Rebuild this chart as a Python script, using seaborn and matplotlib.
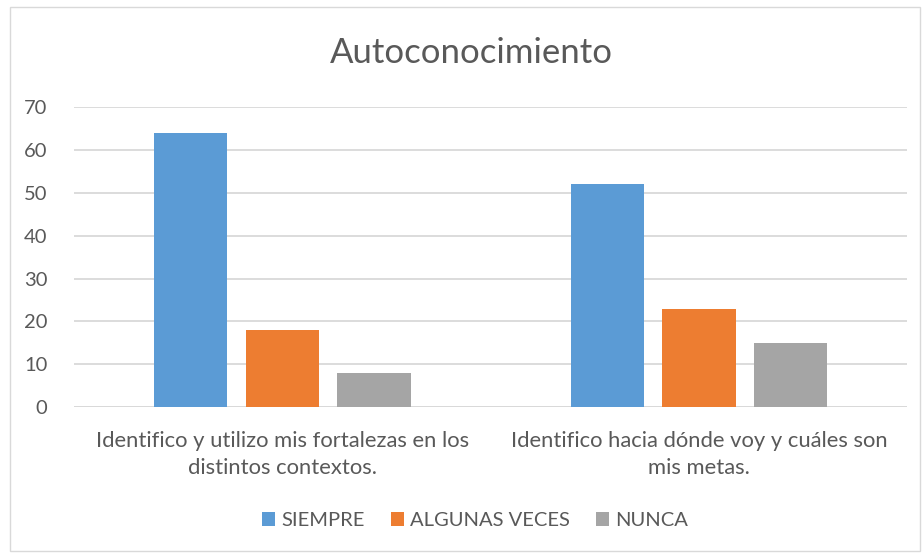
import pandas as pd
import matplotlib
matplotlib.use("Agg")
import matplotlib.pyplot as plt
import seaborn as sns
from matplotlib.patches import Rectangle

# chart data
categories = ["Identifico y utilizo mis fortalezas en los\ndistintos contextos.",
              "Identifico hacia dónde voy y cuáles son\nmis metas."]
series = ["SIEMPRE", "ALGUNAS VECES", "NUNCA"]
siempre = [64, 52]
algunas_veces = [18, 23]
nunca = [8, 15]
colors = ["#5B9BD5", "#ED7D31", "#A5A5A5"]

df = pd.DataFrame({
    "pregunta": categories * 3,
    "respuesta": [s for s in series for _ in categories],
    "valor": siempre + algunas_veces + nunca,
})

sns.set_theme(style="white")
plt.rcParams["font.family"] = ["Lato", "DejaVu Sans"]
text_color = "#595959"

fig = plt.figure(figsize=(9.23, 5.54), dpi=100)
ax = fig.add_axes([0.080, 0.265, 0.903, 0.542])

sns.barplot(data=df, x="pregunta", y="valor", hue="respuesta",
            hue_order=series, palette=colors, width=0.66, gap=0.2,
            saturation=1, linewidth=0, ax=ax, legend=True)

ax.set_ylim(0, 70)
ax.set_xlim(-0.5, 1.5)
ax.set_yticks(range(0, 71, 10))
ax.yaxis.grid(True, color="#D9D9D9", linewidth=1.3)
ax.set_axisbelow(True)
for s in ax.spines.values():
    s.set_visible(False)
ax.axhline(0, color="#D9D9D9", linewidth=1.3, zorder=0)
ax.set_xlabel("")
ax.set_ylabel("")
ax.tick_params(axis="y", length=0, pad=19, labelsize=14.5, labelcolor=text_color)
ax.tick_params(axis="x", length=0, pad=17, labelsize=15.8, labelcolor=text_color)
for lab in ax.get_xticklabels():
    lab.set_linespacing(1.45)

fig.text(0.511, 0.905, "Autoconocimiento", ha="center", va="center",
         fontsize=25, color=text_color)

handles, labels = ax.get_legend_handles_labels()
ax.legend_.remove()
fig.legend(handles, labels, loc="center", bbox_to_anchor=(0.515, 0.06),
           ncol=3, frameon=False, fontsize=14.5, labelcolor=text_color,
           handlelength=0.65, handleheight=0.65, handletextpad=0.3,
           columnspacing=1.3)

# chart border
fig.patches.append(Rectangle((0.011, 0.005), 0.986, 0.982, transform=fig.transFigure,
                             fill=False, edgecolor="#D9D9D9", linewidth=1))

fig.savefig("out.png", dpi=100)
